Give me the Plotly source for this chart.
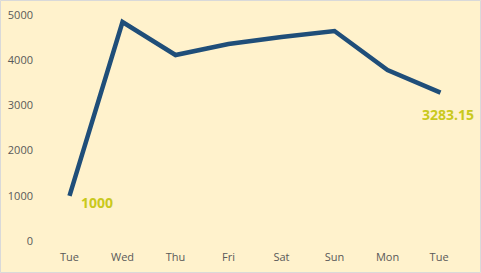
import plotly.graph_objects as go

days = ["Tue", "Wed", "Thu", "Fri", "Sat", "Sun", "Mon", "Tue "]
values = [1000, 4845, 4115, 4358, 4513, 4646, 3783, 3283.15]
tick_vals = [0, 1000, 2000, 3000, 4000, 5000]
tick_text = ["0", "1000", "2000", "3000", "4000", "5000"]

W, H = 481, 273
ml, mr, mt, mb = 43, 14, 15, 32
pw, ph = W - ml - mr, H - mt - mb

fig = go.Figure()
fig.add_trace(go.Scatter(
    x=days, y=values, mode="lines",
    line=dict(color="#1F4E79", width=4.5),
    hoverinfo="skip", showlegend=False,
))

lab_font = dict(family="Open Sans, Noto Sans, sans-serif", size=14, color="#C9C91C")
fig.add_annotation(x=days[0], y=values[0], text="<b>1000</b>", showarrow=False,
                   xanchor="left", yanchor="middle", xshift=9, yshift=-7, font=lab_font)
fig.add_annotation(x=days[-1], y=values[-1], text="<b>3283.15</b>", showarrow=False,
                   xanchor="center", yanchor="middle", xshift=7, yshift=-22, font=lab_font)

# outer border of the chart
fig.add_shape(type="rect", xref="paper", yref="paper",
              x0=(0.5 - ml) / pw, x1=(W - 0.5 - ml) / pw,
              y0=-(mb - 0.5) / ph, y1=1 + (mt - 0.5) / ph,
              line=dict(color="#D9D9D9", width=1), fillcolor="rgba(0,0,0,0)", layer="below")

fig.update_layout(
    width=W, height=H,
    margin=dict(l=ml, r=mr, t=mt, b=mb, autoexpand=False),
    paper_bgcolor="#FFF2CC", plot_bgcolor="#FFF2CC",
    font=dict(family="Open Sans, Noto Sans, sans-serif", size=11, color="#595959"),
    xaxis=dict(range=[-0.5, 7.5], showgrid=False, zeroline=False, showline=False, ticks="",
               ticklabelstandoff=8, automargin=False,
               tickfont=dict(size=11, color="#595959"), fixedrange=True),
    yaxis=dict(range=[0, 5000], tickvals=tick_vals, ticktext=tick_text,
               showgrid=False, zeroline=False, showline=False, ticks="",
               ticklabelstandoff=9, automargin=False,
               tickfont=dict(size=11, color="#595959"), fixedrange=True),
)
fig.write_html("out.html", config={"displayModeBar": False})
